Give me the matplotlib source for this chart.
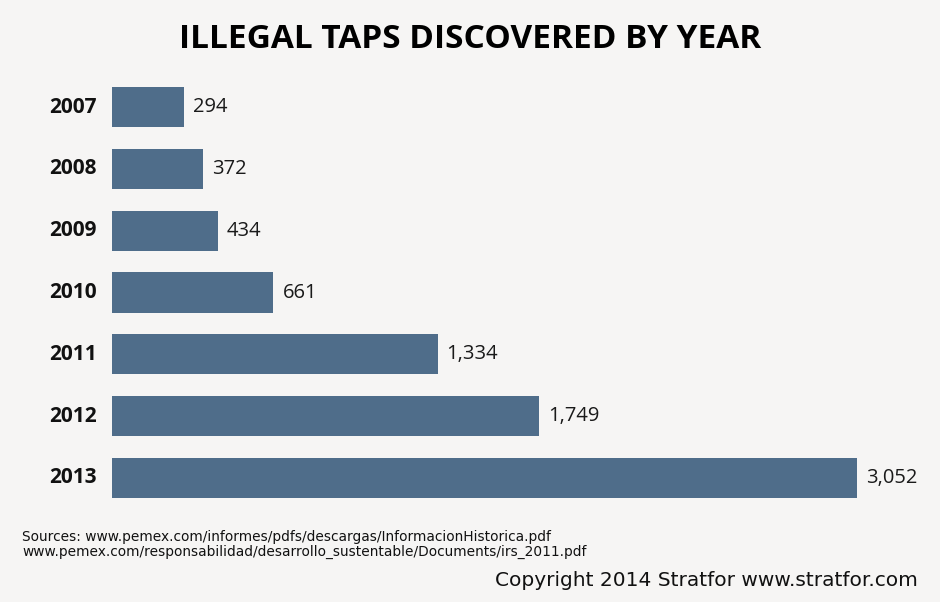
import matplotlib
matplotlib.use("Agg")
import matplotlib.pyplot as plt
from matplotlib import font_manager

years = ["2007", "2008", "2009", "2010", "2011", "2012", "2013"]
taps = [294, 372, 434, 661, 1334, 1749, 3052]

BG = "#f6f5f4"
BAR = "#4f6d8a"

names = {f.name for f in font_manager.fontManager.ttflist}
narrow = "Liberation Sans Narrow" if "Liberation Sans Narrow" in names else "DejaVu Sans"
body = "Open Sans" if "Open Sans" in names else "DejaVu Sans"

fig = plt.figure(figsize=(9.4, 6.02), dpi=100, facecolor=BG)
W, H = 940, 602
ax = fig.add_axes([112 / W, (H - 508.9) / H, (857 - 112) / W, 432.8 / H])
ax.set_facecolor(BG)
ypos = list(range(len(years)))
ax.barh(ypos, taps, height=0.65, color=BAR)
ax.set_xlim(0, max(taps))
ax.set_ylim(len(years) - 0.5, -0.5)
ax.axis("off")

for y, v, yr in zip(ypos, taps, years):
    ax.annotate(f"{v:,}", (v, y), xytext=(6.5, 0), textcoords="offset points",
                va="center", ha="left", fontsize=14.5, family=body, color="#1a1a1a",
                annotation_clip=False)
    ax.annotate(yr, (0, y), xytext=(-11, 0), textcoords="offset points",
                va="center", ha="right", fontsize=15, family=body,
                fontweight="bold", color="#111111", annotation_clip=False)

fig.text(470 / W, 1 - 40 / H, "ILLEGAL TAPS DISCOVERED BY YEAR", ha="center", va="center",
         fontsize=24, fontweight="bold", family=body, color="#000000")
fig.text(22 / W, 1 - 537 / H,
         "Sources: www.pemex.com/informes/pdfs/descargas/InformacionHistorica.pdf",
         ha="left", va="center", fontsize=9.9, family=narrow, color="#111111")
fig.text(22 / W, 1 - 552 / H,
         "www.pemex.com/responsabilidad/desarrollo_sustentable/Documents/irs_2011.pdf",
         ha="left", va="center", fontsize=9.9, family=narrow, color="#111111")
fig.text(918 / W, 1 - 580 / H, "Copyright 2014 Stratfor www.stratfor.com",
         ha="right", va="center", fontsize=14.5, family=narrow, color="#111111")

fig.savefig("out.png", dpi=100, facecolor=BG)
